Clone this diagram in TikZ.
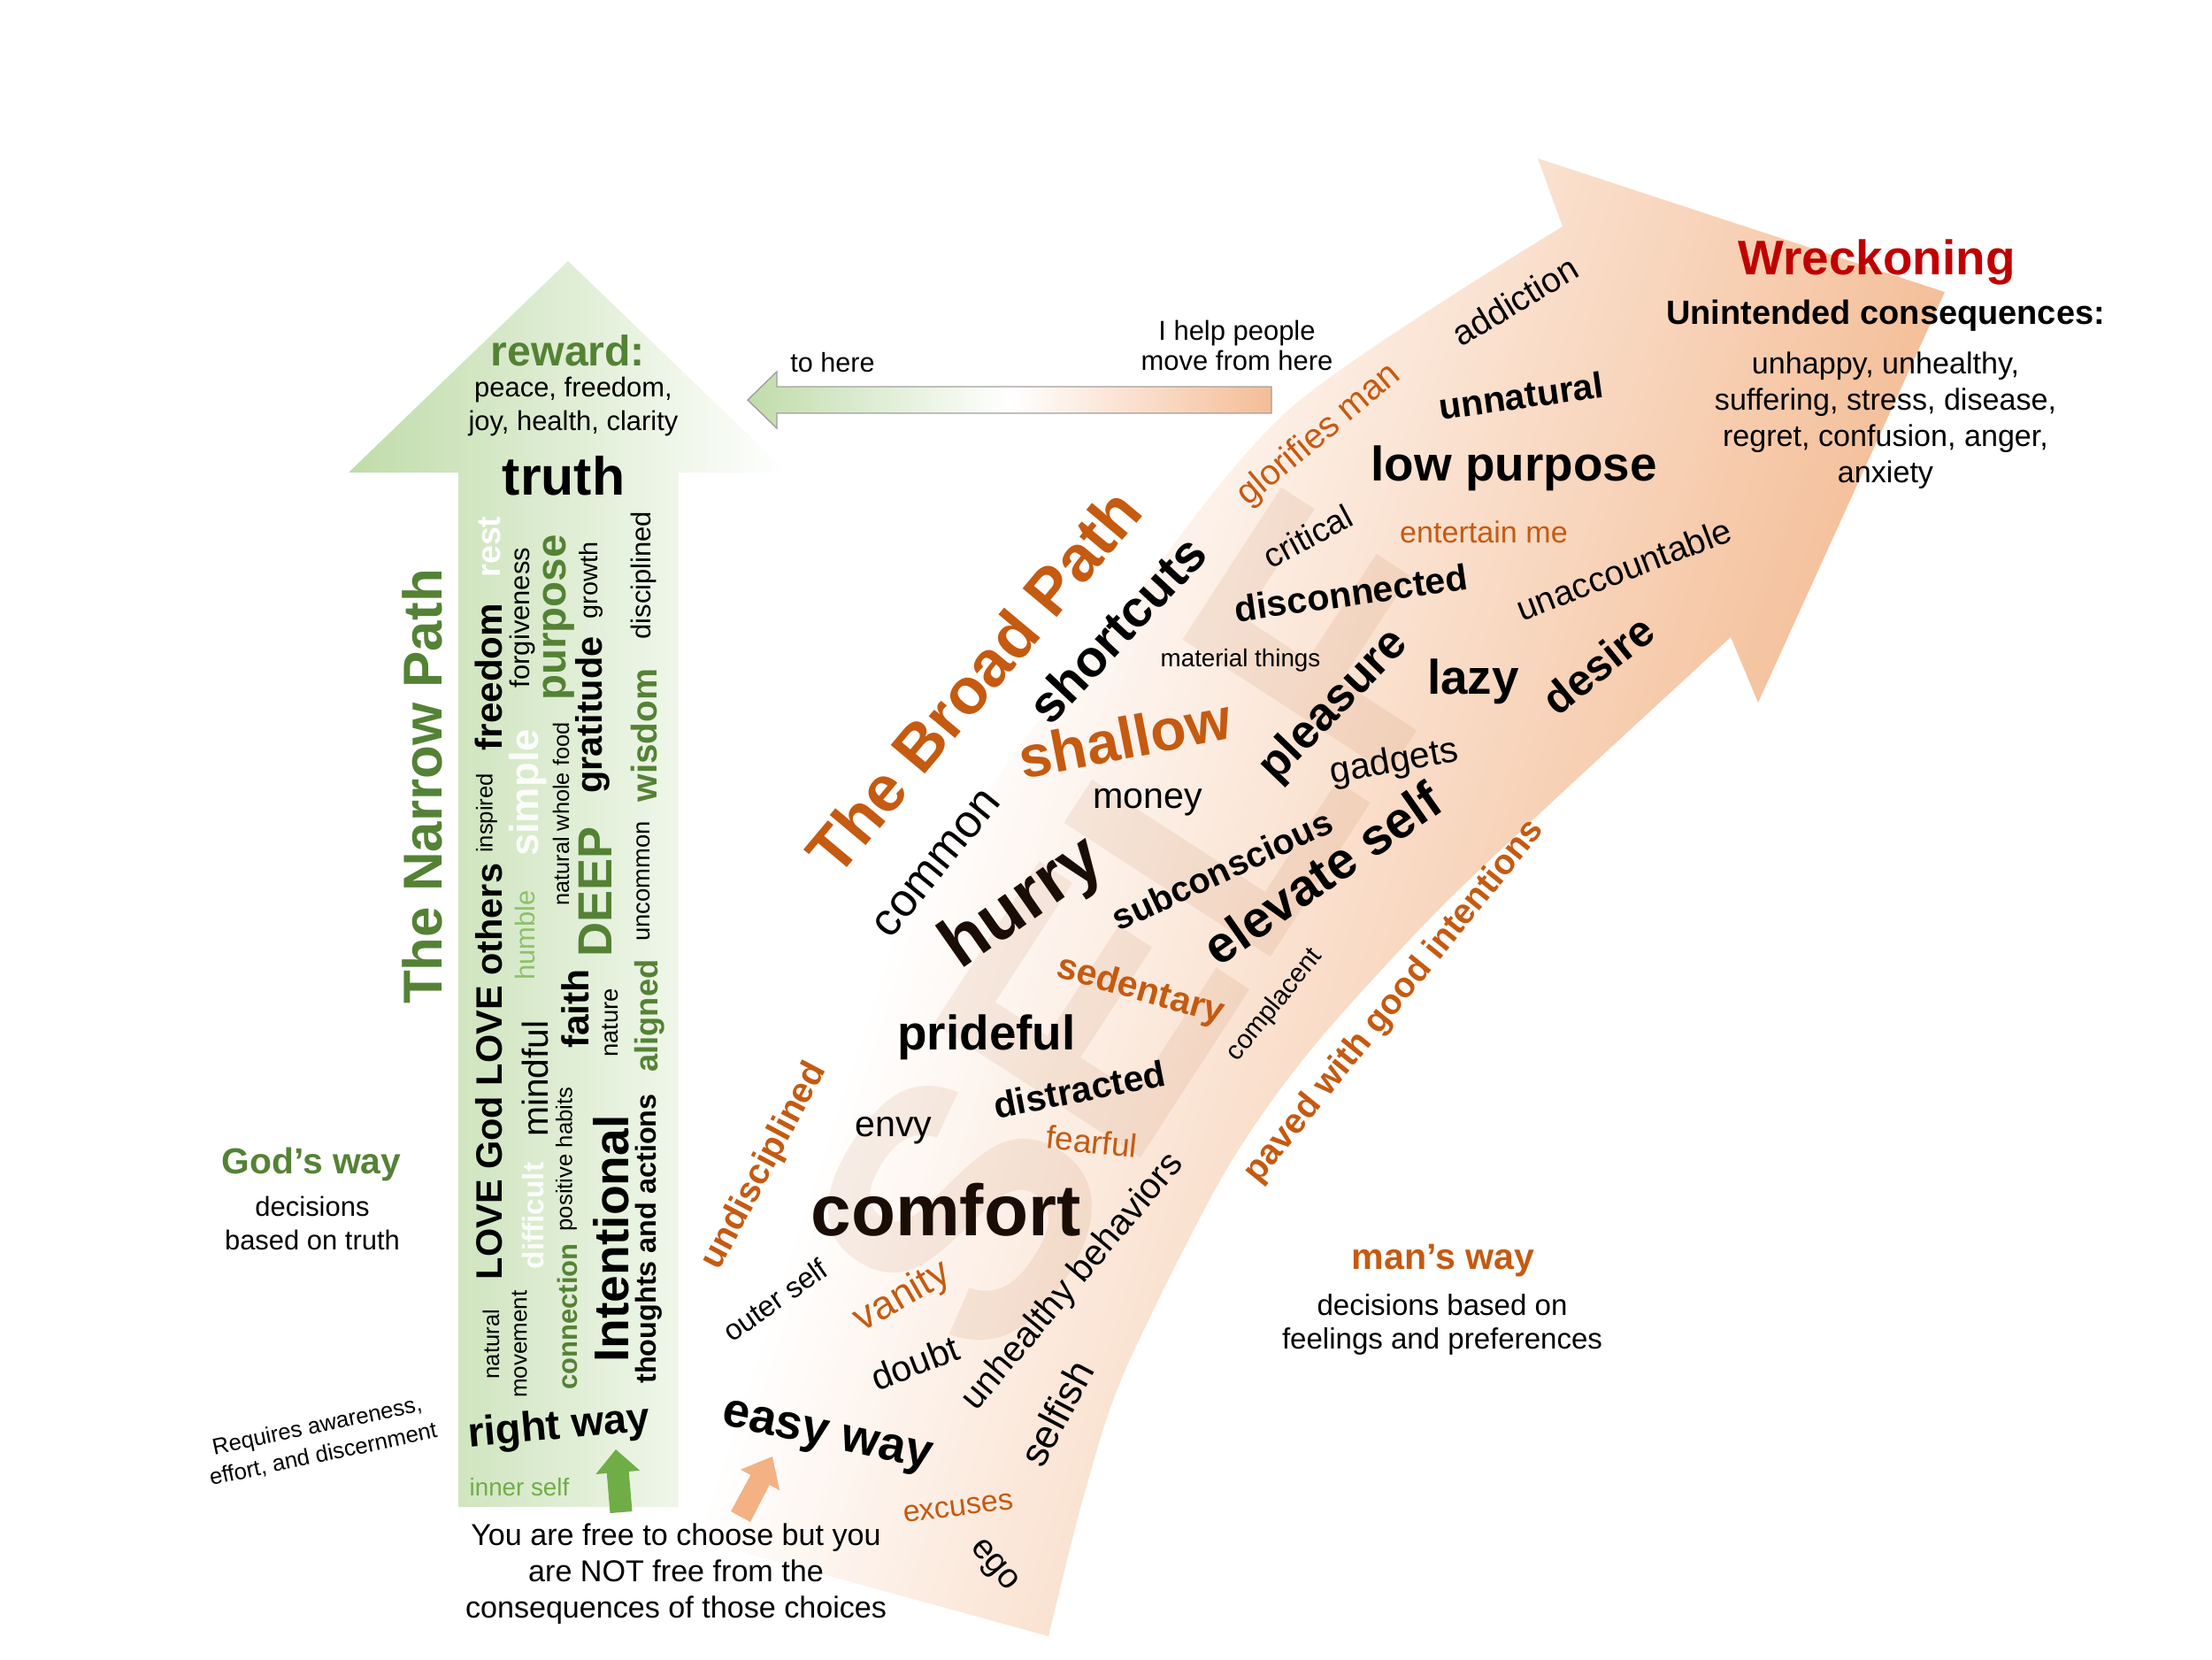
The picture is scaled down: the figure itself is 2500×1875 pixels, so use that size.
\documentclass[tikz,border=0pt]{standalone}
\usepackage{fontspec}
\setmainfont{Liberation Sans}
\definecolor{grD}{HTML}{548235}
\definecolor{grM}{HTML}{70AD47}
\definecolor{grL}{HTML}{8CC06A}
\definecolor{grA}{HTML}{C0DCAA}
\definecolor{orD}{HTML}{C55A11}
\definecolor{orA}{HTML}{F4BD96}
\definecolor{orS}{HTML}{F4B183}
\definecolor{redW}{HTML}{C00000}
\definecolor{brk}{HTML}{1A0D05}
\definecolor{selfc}{HTML}{B0602A}
\pgfdeclarehorizontalshading{broadsh}{100bp}{color(0bp)=(white); color(45.7bp)=(white); color(62bp)=(orA); color(100bp)=(orA)}
\pgfdeclarehorizontalshading{smallsh}{100bp}{color(0bp)=(grA); color(25bp)=(grA); color(50bp)=(white); color(75bp)=(orA); color(100bp)=(orA)}
\newcommand\fz[1]{\fontsize{#1}{#1}\selectfont}
\tikzset{
  w/.style={inner sep=0pt, outer sep=0pt, anchor=center},
}
\begin{document}
\begin{tikzpicture}[x=0.01cm,y=-0.01cm]
\useasboundingbox (0,0) rectangle (2500,1875);

% ---------- broad path arrow ----------
\begin{scope}
\clip (700,1716) -- plot[smooth] coordinates {(700,1716) (785,1440) (915,1200) (1090,930) (1270,690) (1460,460) (1766,256)}
  -- (1738,179) -- (2198,330) -- (1987,794) -- (1956,720)
  -- plot[smooth] coordinates {(1956,720) (1762,899) (1622,1032) (1481,1187) (1383,1327) (1271,1550) (1225,1690) (1185,1849)} -- cycle;
\begin{scope}[transform canvas={rotate around={-18:(1166,556)}}]
\shade[shading=broadsh] (-34,-600) rectangle (2866,2600);
\end{scope}
\node[w, rotate=57, font=\bfseries\fz{115}, text=selfc, opacity=0.1] (self) at (1292,1048) {SELF};
\end{scope}

% ---------- narrow path arrow ----------
\shade[left color=grA, right color=white] (518,1703) -- (518,534) -- (394,534) -- (642,295) -- (890,534) -- (767,534) -- (767,1703) -- cycle;

% small horizontal arrow
\shadedraw[shading=smallsh, draw=gray!75, line width=0.4pt] (845,452) -- (878,420) -- (878,437) -- (1437,437) -- (1437,467) -- (878,467) -- (878,484) -- cycle;

% small choice arrows
\fill[grM] (689.5,1710) -- (685.8,1664.9) -- (673.3,1666) -- (696,1638) -- (723.1,1661.8) -- (710.7,1662.9) -- (714.5,1708) -- cycle;
\fill[orS] (826,1708) -- (848.4,1666.9) -- (836.9,1660.8) -- (873,1646) -- (881.1,1684.2) -- (869.6,1678.1) -- (848,1720) -- cycle;

% ---------- narrow path texts ----------
\node[w, font=\bfseries\fz{13.7}, text=grD] (reward) at (642,396) {reward:};
\node[w, align=center, font=\fontsize{8.8}{10.8}\selectfont] (rew2) at (648,459) {peace, freedom,\\joy, health, clarity};
\node[w, font=\bfseries\fz{17.3}] (truth) at (637,538) {truth};

\node[w, rotate=90, font=\bfseries\fz{10.7}, text=white] (rest) at (553,618) {rest};
\node[w, rotate=90, font=\bfseries\fz{12}] (freedom) at (552,765) {freedom};
\node[w, rotate=90, font=\fz{7.3}] (inspired) at (550,919) {inspired};
\node[w, rotate=90, font=\bfseries\fz{11.8}] (love) at (553,1211) {LOVE God LOVE others};
\node[w, rotate=90, font=\fz{7.3}] (natural) at (555,1519) {natural};

\node[w, rotate=90, font=\fz{8.8}] (forgive) at (590,698) {forgiveness};
\node[w, rotate=90, font=\bfseries\fz{12.9}, text=white, opacity=0.9] (simple) at (597,896) {simple};
\node[w, rotate=90, font=\fz{8.8}, text=grL] (humble) at (593,1057) {humble};
\node[w, rotate=90, font=\fz{11.6}] (mindful) at (605,1219) {mindful};
\node[w, rotate=90, font=\bfseries\fz{9.5}, text=white, opacity=0.9] (difficult) at (603,1374) {difficult};
\node[w, rotate=90, font=\fz{7.4}] (movement) at (587,1519) {movement};

\node[w, rotate=90, font=\bfseries\fz{13.5}, text=grD] (purpose) at (632,698) {purpose};
\node[w, rotate=90, font=\fz{7.2}] (nwf) at (634,920) {natural whole food};
\node[w, rotate=90, font=\bfseries\fz{12.1}] (faith) at (650,1140) {faith};
\node[w, rotate=90, font=\fz{7.3}] (posh) at (640,1310) {positive habits};
\node[w, rotate=90, font=\bfseries\fz{8.8}, text=grD] (connection) at (641,1488) {connection};

\node[w, rotate=90, font=\fz{8.2}] (growth) at (668,656) {growth};
\node[w, rotate=90, font=\bfseries\fz{11.8}] (gratitude) at (670,808) {gratitude};
\node[w, rotate=90, font=\bfseries\fz{15.4}, text=grD] (deep) at (673,1008) {DEEP};
\node[w, rotate=90, font=\fz{7.8}] (nature) at (690,1156) {nature};
\node[w, rotate=90, font=\bfseries\fz{15.7}] (intentional) at (691,1400) {Intentional};

\node[w, rotate=90, font=\fz{8.8}] (disciplined) at (727,650) {disciplined};
\node[w, rotate=90, font=\bfseries\fz{11.5}, text=grD] (wisdom) at (728,831) {wisdom};
\node[w, rotate=90, font=\fz{7.8}] (uncommon) at (727,996) {uncommon};
\node[w, rotate=90, font=\bfseries\fz{10.3}, text=grD] (aligned) at (734,1148) {aligned};
\node[w, rotate=90, font=\bfseries\fz{9.2}] (thoughts) at (733,1400) {thoughts and actions};

\node[w, rotate=5, font=\bfseries\fz{13.4}] (rightway) at (632,1614) {right way};
\node[w, font=\fz{7.9}, text=grM] (inner) at (587,1681) {inner self};

% titles left
\node[w, rotate=90, font=\bfseries\fz{17.6}, text=grD] (narrow) at (477,889) {The Narrow Path};
\node[w, font=\bfseries\fz{11.6}, text=grD] (gods) at (352,1316) {God’s way};
\node[w, align=center, font=\fontsize{8.8}{10.8}\selectfont] (godsd) at (353,1382) {decisions\\based on truth};
\node[w, rotate=12, align=center, font=\fontsize{7.3}{9.4}\selectfont] (req) at (362,1628) {Requires awareness,\\effort, and discernment};
\node[w, align=center, font=\fontsize{9.7}{11.7}\selectfont] (free) at (764,1779) {You are free to choose but you\\are NOT free from the\\consequences of those choices};

% small arrow labels
\node[w, font=\fz{8.7}] (tohere) at (941,410) {to here};
\node[w, align=center, font=\fontsize{8.8}{9.7}\selectfont] (fromhere) at (1398,390) {I help people\\move from here};

% ---------- right side ----------
\node[w, font=\bfseries\fz{15.6}, text=redW] (wreck) at (2121,296) {Wreckoning};
\node[w, font=\bfseries\fz{10.8}] (unint) at (2131,357) {Unintended consequences:};
\node[w, align=center, font=\fontsize{9.7}{11.7}\selectfont] (cons) at (2131,475) {unhappy, unhealthy,\\suffering, stress, disease,\\regret, confusion, anger,\\anxiety};

% ---------- broad path words ----------
\node[w, rotate=50, font=\bfseries\fz{20.8}, text=orD] (broad) at (1100,770) {The Broad Path};
\node[w, rotate=47, font=\bfseries\fz{16.5}] (shortcuts) at (1262,711) {shortcuts};
\node[w, rotate=40, font=\fz{11.4}, text=orD] (glorifies) at (1491,492) {glorifies man};
\node[w, rotate=31, font=\fz{11.2}] (addiction) at (1712,340) {addiction};
\node[w, rotate=8, font=\bfseries\fz{11.7}] (unnatural) at (1719,447) {unnatural};
\node[w, font=\bfseries\fz{15.6}] (lowp) at (1711,529) {low purpose};
\node[w, rotate=28, font=\fz{10.8}] (critical) at (1478,606) {critical};
\node[w, font=\fz{9.7}, text=orD] (entertain) at (1677,601) {entertain me};
\node[w, rotate=8, font=\bfseries\fz{11.7}] (disconnected) at (1527,670) {disconnected};
\node[w, rotate=21, font=\fz{11.2}] (unacc) at (1835,643) {unaccountable};
\node[w, font=\fz{7.9}] (material) at (1402,746) {material things};
\node[w, rotate=46, font=\bfseries\fz{15}] (pleasure) at (1508,798) {pleasure};
\node[w, font=\bfseries\fz{15.6}] (lazy) at (1665,770) {lazy};
\node[w, rotate=39, font=\bfseries\fz{14}] (desire) at (1806,751) {desire};
\node[w, rotate=11, font=\bfseries\fz{18.8}, text=orD] (shallow) at (1271,834) {shallow};
\node[w, font=\fz{11.7}] (money) at (1297,907) {money};
\node[w, rotate=10, font=\fz{11.7}] (gadgets) at (1576,862) {gadgets};
\node[w, rotate=51, font=\fz{14.8}] (common) at (1059,976) {common};
\node[w, rotate=35, font=\bfseries\fz{22.5}, text=brk] (hurry) at (1157,1022) {hurry};
\node[w, rotate=25, font=\bfseries\fz{11.4}] (subc) at (1381,983) {subconscious};
\node[w, rotate=35, font=\bfseries\fz{16.5}] (elevate) at (1494,987) {elevate self};
\node[w, rotate=-16, font=\bfseries\fz{11.7}, text=orD] (sedentary) at (1289,1120) {sedentary};
\node[w, rotate=51, font=\fz{8.5}] (complacent) at (1441,1136) {complacent};
\node[w, font=\bfseries\fz{15.6}] (prideful) at (1115,1172) {prideful};
\node[w, rotate=11, font=\bfseries\fz{11.7}] (distracted) at (1220,1231) {distracted};
\node[w, font=\fz{11.7}] (envy) at (1010,1278) {envy};
\node[w, rotate=-6, font=\fz{10.5}, text=orD] (fearful) at (1234,1290) {fearful};
\node[w, font=\bfseries\fz{23.3}, text=brk] (comfort) at (1069,1367) {comfort};
\node[w, rotate=62, font=\bfseries\fz{11.4}, text=orD] (undisc) at (864,1318) {undisciplined};
\node[w, rotate=35, font=\fz{9.4}] (outer) at (876,1469) {outer self};
\node[w, rotate=30, font=\fz{12.8}, text=orD] (vanity) at (1020,1466) {vanity};
\node[w, rotate=21, font=\fz{11.7}] (doubt) at (1034,1540) {doubt};
\node[w, rotate=50, font=\fz{11.6}] (unhealthy) at (1213,1449) {unhealthy behaviors};
\node[w, rotate=62, font=\fz{12.8}] (selfish) at (1194,1597) {selfish};
\node[w, rotate=-12, font=\bfseries\fz{15.6}] (easy) at (934,1626) {easy way};
\node[w, rotate=7, font=\fz{9.7}, text=orD] (excuses) at (1083,1704) {excuses};
\node[w, rotate=-50, font=\fz{11.1}] (ego) at (1122,1770) {ego};
\node[w, rotate=51, font=\bfseries\fz{11.3}, text=orD] (paved) at (1576,1132) {paved with good intentions};

\node[w, font=\bfseries\fz{11.7}, text=orD] (mans) at (1631,1425) {man’s way};
\node[w, align=center, font=\fontsize{9.4}{10.8}\selectfont] (mansd) at (1630,1497) {decisions based on\\feelings and preferences};
\end{tikzpicture}
\end{document}
